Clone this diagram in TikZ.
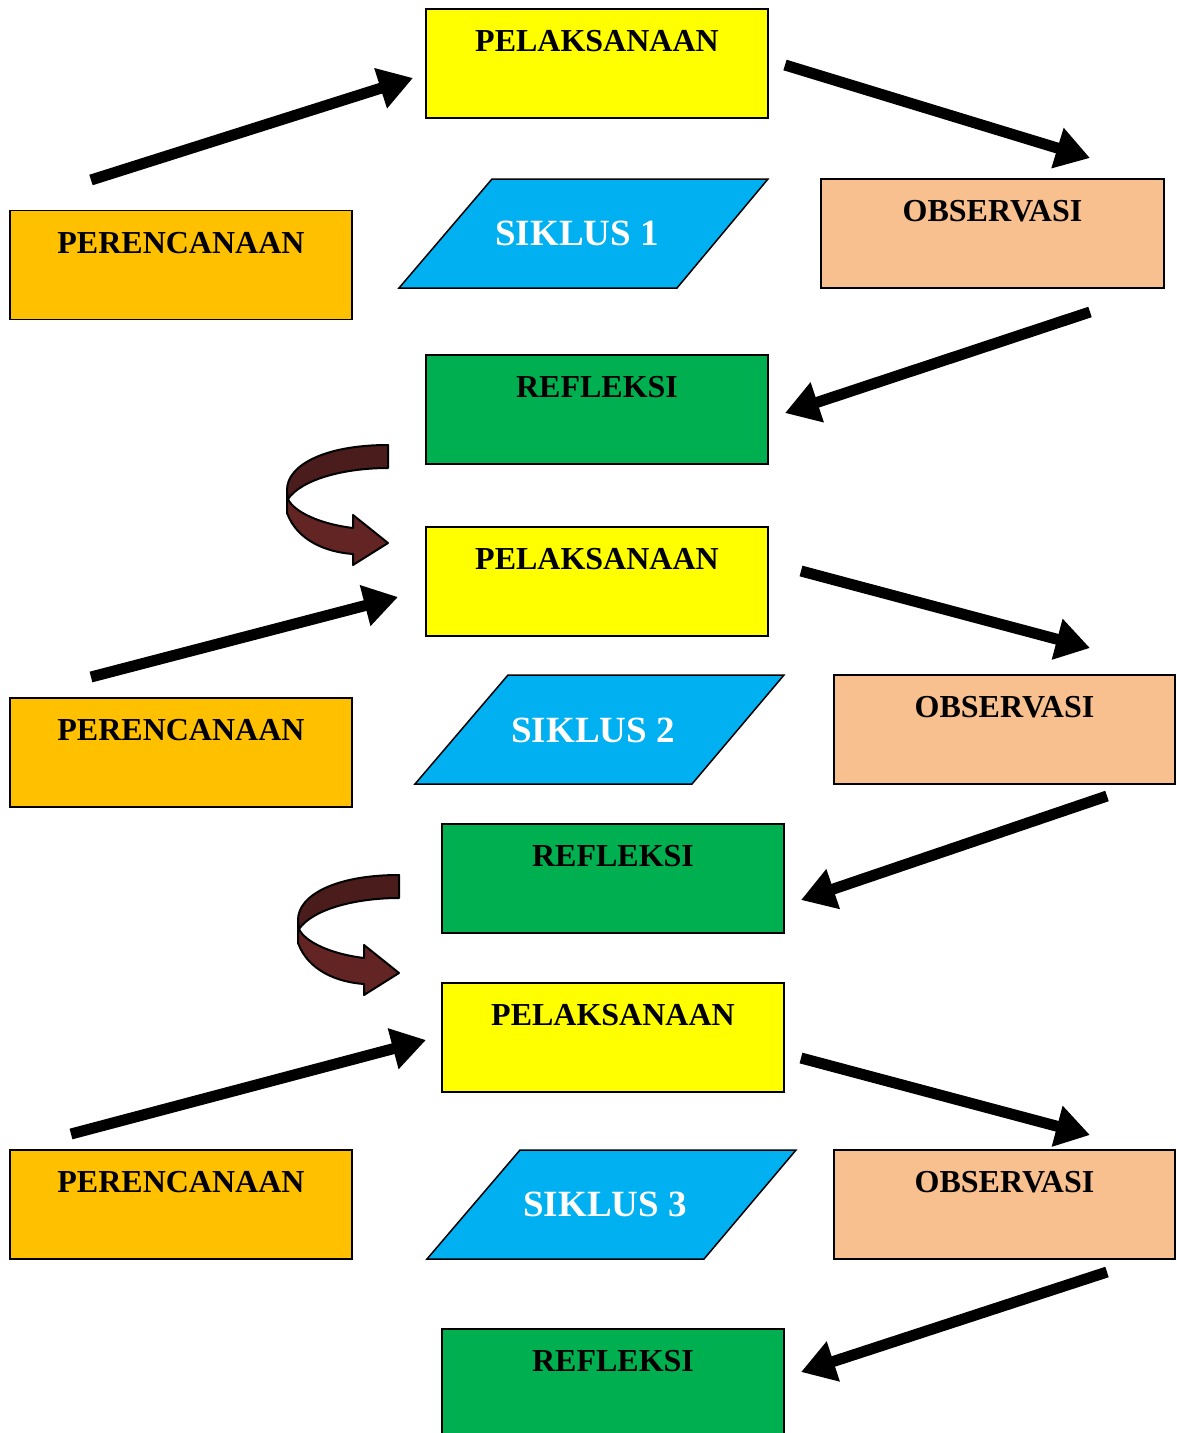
\documentclass[tikz,border=0pt]{standalone}
\usepackage{fontspec}
\setmainfont{Liberation Serif}
\usetikzlibrary{positioning, arrows.meta}
\definecolor{pelkuning}{HTML}{FFFF00}
\definecolor{perjingga}{HTML}{FFC000}
\definecolor{sikbiru}{HTML}{00B0F0}
\definecolor{obscoklat}{HTML}{F8BF8F}
\definecolor{refhijau}{HTML}{00B050}
\definecolor{putargelap}{HTML}{4B1C1C}
\definecolor{putarterang}{HTML}{632523}

\begin{document}
\begin{tikzpicture}[x=1pt,y=-1pt,>={Triangle[length=34pt,width=40pt]}]
    \tikzstyle{kotak}=[draw=black,line width=1.5pt,minimum width=342pt,minimum height=109pt,inner sep=0pt]
    \tikzstyle{judul}=[inner sep=0pt,font=\bfseries\fontsize{32}{38}\selectfont]
    \tikzstyle{siklus}=[inner sep=0pt,text=white,font=\bfseries\fontsize{37}{44}\selectfont]
    \tikzstyle{jajar}=[draw=black,line width=1.5pt,fill=sikbiru]
    \tikzstyle{panah}=[->,line width=11pt,black]
    \tikzstyle{putar}=[draw=black,line width=2pt,line join=round]
    \useasboundingbox (0,0) rectangle (1176,1433);

    % siklus 1
    \node[kotak, fill=pelkuning]    (pel1) at (597,63.5)     {};
    \node[kotak, fill=perjingga]    (per1) at (181,265)      {};
    \node[kotak, fill=obscoklat, minimum width=343pt] (obs1) at (992.5,233.5) {};
    \node[kotak, fill=refhijau]     (ref1) at (597,409.5)    {};
    \node[judul, below=22pt of pel1.north] (pel1t) {PELAKSANAAN};
    \node[judul, below=22pt of per1.north] (per1t) {PERENCANAAN};
    \node[judul, below=22pt of obs1.north] (obs1t) {OBSERVASI};
    \node[judul, below=22pt of ref1.north] (ref1t) {REFLEKSI};
    \draw[jajar] (399,288) -- (492,179) -- (768,179) -- (677,288) -- cycle;
    \node[siklus] (sik1) at (577,233) {SIKLUS 1};

    % siklus 2
    \node[kotak, fill=pelkuning]    (pel2) at (597,581.5)    {};
    \node[kotak, fill=perjingga]    (per2) at (181,752.5)    {};
    \node[kotak, fill=obscoklat, minimum width=341pt] (obs2) at (1004.5,729.5) {};
    \node[kotak, fill=refhijau]     (ref2) at (613,878.5)    {};
    \node[judul, below=22pt of pel2.north] (pel2t) {PELAKSANAAN};
    \node[judul, below=22pt of per2.north] (per2t) {PERENCANAAN};
    \node[judul, below=22pt of obs2.north] (obs2t) {OBSERVASI};
    \node[judul, below=22pt of ref2.north] (ref2t) {REFLEKSI};
    \draw[jajar] (415,784) -- (508,675) -- (784,675) -- (692,784) -- cycle;
    \node[siklus] (sik2) at (593,730) {SIKLUS 2};

    % siklus 3
    \node[kotak, fill=pelkuning]    (pel3) at (613,1037.5)   {};
    \node[kotak, fill=perjingga]    (per3) at (181,1204.5)   {};
    \node[kotak, fill=obscoklat, minimum width=341pt] (obs3) at (1004.5,1204.5) {};
    \node[kotak, fill=refhijau]     (ref3) at (613,1383.5)   {};
    \node[judul, below=22pt of pel3.north] (pel3t) {PELAKSANAAN};
    \node[judul, below=22pt of per3.north] (per3t) {PERENCANAAN};
    \node[judul, below=22pt of obs3.north] (obs3t) {OBSERVASI};
    \node[judul, below=22pt of ref3.north] (ref3t) {REFLEKSI};
    \draw[jajar] (427,1259) -- (520,1150) -- (796,1150) -- (704,1259) -- cycle;
    \node[siklus] (sik3) at (605,1204) {SIKLUS 3};

    % ujung panah
    \coordinate (a1) at (91,180);    \coordinate (b1) at (413,78);
    \coordinate (c1) at (785,65);    \coordinate (d1) at (1090,158);
    \coordinate (e1) at (1090,312);  \coordinate (f1) at (785,413);
    \coordinate (a2) at (91,677);    \coordinate (b2) at (398,597);
    \coordinate (c2) at (801,571);   \coordinate (d2) at (1090,648);
    \coordinate (e2) at (1107,796);  \coordinate (f2) at (801,900);
    \coordinate (a3) at (71,1134);   \coordinate (b3) at (426,1040);
    \coordinate (c3) at (801,1058);  \coordinate (d3) at (1090,1135);
    \coordinate (e3) at (1107,1272); \coordinate (f3) at (801,1372);

    \draw[panah] (a1) -- (b1);
    \draw[panah] (c1) -- (d1);
    \draw[panah] (e1) -- (f1);
    \draw[panah] (a2) -- (b2);
    \draw[panah] (c2) -- (d2);
    \draw[panah] (e2) -- (f2);
    \draw[panah] (a3) -- (b3);
    \draw[panah] (c3) -- (d3);
    \draw[panah] (e3) -- (f3);

    % panah melengkung
    \foreach \dx/\dy in {0/0, 11/430} {
        \begin{scope}[shift={(\dx,\dy)}]
            \path[putar, fill=putarterang] (287,490) -- (287,513)
                .. controls (297,540) and (325,552) .. (353,554) -- (353,565) -- (388,543)
                -- (353,515) -- (353,528) .. controls (320,524) and (294,512) .. (288,499) -- cycle;
            \path[putar, fill=putargelap] (388,445) .. controls (325,445) and (287,465) .. (287,490)
                -- (288,499) .. controls (302,479) and (345,468) .. (388,468) -- cycle;
        \end{scope}
    }
\end{tikzpicture}
\end{document}
